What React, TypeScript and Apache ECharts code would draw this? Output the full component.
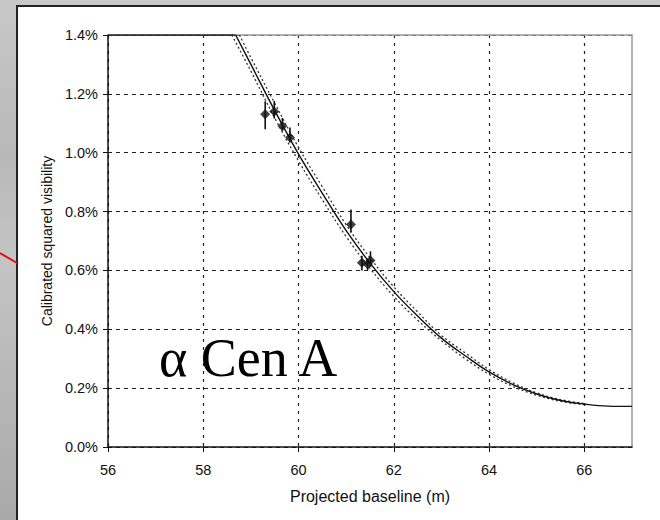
import React, { useEffect, useRef } from "react";
import * as echarts from "echarts";

// Model curve (calibrated squared visibility, %) vs projected baseline (m)
const clampX = [56, 58.68];
const clampY = [1.4, 1.4];
const modelX = [58.68, 59.0, 59.5, 60.0, 60.5, 61.0, 61.5, 62.0, 62.5, 63.0, 63.5, 64.0, 64.5, 65.0, 65.5, 66.0, 66.5, 67.0];
const modelY = [1.4, 1.3, 1.143, 0.995, 0.862, 0.735, 0.625, 0.528, 0.445, 0.37, 0.31, 0.255, 0.212, 0.18, 0.158, 0.146, 0.139, 0.138];

// Uncertainty envelopes (dotted)
const upperX = [58.76, 59.0, 59.5, 60.0, 60.5, 61.0, 61.5, 62.0, 62.5, 63.0, 63.5, 64.0, 64.5, 65.0, 65.5, 66.0];
const upperY = [1.4, 1.323, 1.168, 1.018, 0.884, 0.755, 0.643, 0.544, 0.459, 0.379, 0.32, 0.263, 0.218, 0.184, 0.161, 0.148];
const lowerX = [58.6, 59.0, 59.5, 60.0, 60.5, 61.0, 61.5, 62.0, 62.5, 63.0, 63.5, 64.0, 64.5, 65.0, 65.5, 66.0];
const lowerY = [1.4, 1.277, 1.118, 0.972, 0.84, 0.715, 0.607, 0.512, 0.431, 0.361, 0.3, 0.247, 0.206, 0.176, 0.155, 0.144];

// Measurements
const obsX = [59.3, 59.49, 59.66, 59.82, 61.1, 61.33, 61.45, 61.51];
const obsY = [1.131, 1.14, 1.091, 1.052, 0.756, 0.626, 0.621, 0.634];
const obsLow = [1.08, 1.116, 1.074, 1.035, 0.729, 0.6, 0.6, 0.612];
const obsHigh = [1.175, 1.176, 1.118, 1.086, 0.807, 0.65, 0.64, 0.665];

const xTicks = [56, 58, 60, 62, 64, 66];

const labelFont = "Liberation Sans";

export default function App() {
  const ref = useRef<HTMLDivElement>(null);
  useEffect(() => {
    if (!ref.current) return;
    const chart = echarts.init(ref.current, null, { renderer: "svg" });
    const zip = (xs: number[], ys: number[]) => xs.map((x, i) => [x, ys[i]]);
    const envStyle = { color: "#333", width: 1.3, type: [2, 2.5] as any };
    chart.setOption({
      animation: false,
      backgroundColor: "transparent",
      grid: { left: 108, right: 28, top: 35, bottom: 73, containLabel: false },
      xAxis: [
        {
          type: "value",
          min: 56,
          max: 67,
          interval: 2,
          name: "Projected baseline (m)",
          nameLocation: "middle",
          nameGap: 41,
          nameTextStyle: { fontFamily: labelFont, fontSize: 16, color: "#111" },
          axisLine: { show: true, onZero: false, lineStyle: { color: "#111", width: 1.5 } },
          axisTick: { show: true, length: 5, customValues: xTicks, lineStyle: { color: "#111" } },
          axisLabel: { customValues: xTicks, fontFamily: labelFont, fontSize: 14.5, color: "#111", margin: 15 },
          splitLine: { show: true, lineStyle: { color: "#222", width: 1.2, type: [3, 5] } },
        },
        {
          type: "value",
          position: "top",
          min: 56,
          max: 67,
          axisLine: { show: true, onZero: false, lineStyle: { color: "#999", width: 1.5 } },
          axisTick: { show: false },
          axisLabel: { show: false },
          splitLine: { show: false },
        },
      ],
      yAxis: [
        {
          type: "value",
          min: 0,
          max: 1.4,
          interval: 0.2,
          name: "Calibrated squared visibility",
          nameLocation: "middle",
          nameGap: 54,
          nameTextStyle: { fontFamily: labelFont, fontSize: 14, color: "#111" },
          axisLine: { show: true, onZero: false, lineStyle: { color: "#111", width: 1.5 } },
          axisTick: { show: true, length: 5, lineStyle: { color: "#111" } },
          axisLabel: {
            fontFamily: labelFont,
            fontSize: 14.5,
            color: "#111",
            margin: 10,
            formatter: (v: number) => v.toFixed(1) + "%",
          },
          splitLine: { show: true, lineStyle: { color: "#222", width: 1.2, type: [4, 4] } },
        },
        {
          type: "value",
          position: "right",
          min: 0,
          max: 1.4,
          axisLine: { show: true, onZero: false, lineStyle: { color: "#999", width: 1.5 } },
          axisTick: { show: false },
          axisLabel: { show: false },
          splitLine: { show: false },
        },
      ],
      graphic: [
        {
          type: "line",
          shape: { x1: 0, y1: 253, x2: 17, y2: 263 },
          style: { stroke: "#e01010", lineWidth: 2 },
        },
        {
          type: "text",
          x: 159,
          y: 358,
          style: {
            text: "α Cen A",
            fontFamily: "Liberation Serif",
            fontSize: 54,
            fill: "#000",
            verticalAlign: "middle",
            align: "left",
          },
        },
      ],
      series: [
        {
          type: "line",
          data: zip(lowerX, lowerY),
          smooth: 0.4,
          symbol: "none",
          lineStyle: envStyle,
          z: 2,
        },
        {
          type: "line",
          data: zip(upperX, upperY),
          smooth: 0.4,
          symbol: "none",
          lineStyle: envStyle,
          z: 2,
        },
        {
          type: "line",
          data: zip(clampX, clampY),
          symbol: "none",
          lineStyle: { color: "#111", width: 1.5 },
          z: 3,
        },
        {
          type: "line",
          data: zip(modelX, modelY),
          smooth: 0.4,
          symbol: "none",
          lineStyle: { color: "#111", width: 1.4 },
          z: 3,
        },
        {
          type: "custom",
          data: obsX.map((x, i) => [x, obsLow[i], obsHigh[i]]),
          renderItem: (_p: any, api: any) => {
            const x = api.value(0);
            const lo = api.coord([x, api.value(1)]);
            const hi = api.coord([x, api.value(2)]);
            return {
              type: "line",
              shape: { x1: lo[0], y1: lo[1], x2: hi[0], y2: hi[1] },
              style: { stroke: "#111", lineWidth: 1.6 },
            };
          },
          z: 4,
        },
        {
          type: "scatter",
          data: zip(obsX, obsY),
          symbol: "diamond",
          symbolSize: 10,
          itemStyle: { color: "#111" },
          z: 5,
        },
      ],
    });
    return () => chart.dispose();
  }, []);

  return (
    <div
      style={{
        position: "fixed",
        left: 0,
        top: 0,
        width: 660,
        height: 520,
        overflow: "hidden",
        background: "linear-gradient(180deg, #c8c8c8 0%, #b8b8b8 30%, #c4c4c4 50%, #a9a9a9 100%)",
      }}
    >
      <div
        style={{
          position: "absolute",
          left: 16,
          top: 5,
          width: 660,
          height: 530,
          background: "#fff",
          borderLeft: "2px solid #222",
          borderTop: "2px solid #222",
        }}
      />
      <div ref={ref} style={{ position: "absolute", left: 0, top: 0, width: 660, height: 520 }} />
    </div>
  );
}
